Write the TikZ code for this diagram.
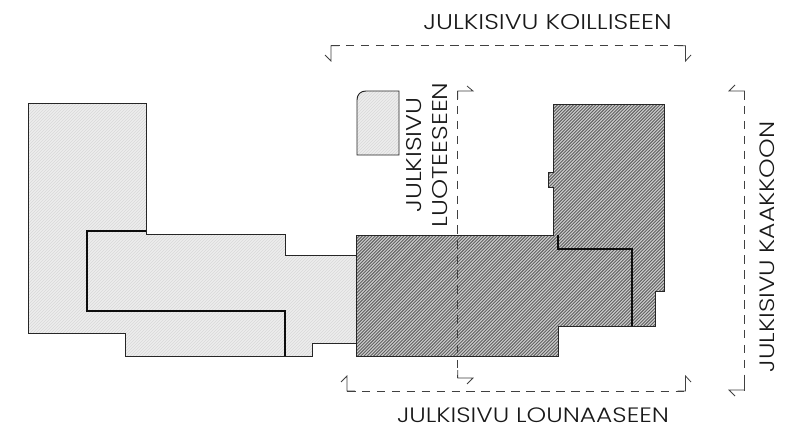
\documentclass[tikz,border=0pt]{standalone}
\usepackage{fontspec}
\setmainfont{Poppins Light}[FakeStretch=1.2]
\tikzset{
  x=0.75pt,y=-0.75pt,
  outline/.style={draw=black!85,line width=0.7pt,line join=miter},
  inner wall/.style={draw=black!95,line width=0.8pt},
  cutline/.style={draw=black!75,line width=0.6pt,dash pattern=on 6.4pt off 4.8pt},
  cuthook/.style={draw=black!75,line width=0.6pt},
  lab/.style={font=\fontsize{16pt}{19pt}\selectfont,text=black!90,inner sep=0pt,align=center},
  labsmall/.style={font=\fontsize{15.6pt}{19pt}\selectfont,text=black!90,inner sep=0pt,align=center},
}
\newcommand{\hatchfill}[5]{% path, base colour, line colour, spacing, line width
  \begin{scope}
    \fill[#2] #1;
    \clip #1;
    \foreach \k in {0,#4,...,1300}{\draw[#3,line width=#5] (\k,0) -- (\k-500,500);}
  \end{scope}
}
\begin{document}
\begin{tikzpicture}
\useasboundingbox (0,0) rectangle (802,435);
\fill[white] (0,0) rectangle (802,435);
% buildings
\def\lightA{(28,103) -- (146,103) -- (146,234.5) -- (285,234.5) -- (285,255) -- (356,255) -- (356,343) -- (312,343) -- (312,356) -- (125,356) -- (125,333) -- (28,333) -- cycle}
\def\lightB{(366,91) -- (399,91) -- (399,155) -- (357,155) -- (357,100) .. controls (357,94.5) and (360.5,91) .. (366,91) -- cycle}
\def\darkA{(356,235) -- (553,235) -- (553,187) -- (548,187) -- (548,172) -- (553,172) -- (553,104) -- (664,104) -- (664,291) -- (655,291) -- (655,326) -- (558,326) -- (558,356) -- (356,356) -- cycle}
\hatchfill{\lightA}{black!7}{black!15}{3}{0.4pt}
\hatchfill{\lightB}{black!7}{black!15}{3}{0.4pt}
\hatchfill{\darkA}{black!20}{black!62}{3.2}{0.7pt}
\draw[outline] \lightA;
\draw[outline] \lightB;
\draw[outline] \darkA;
\draw[inner wall] (146,231) -- (87,231) -- (87,311) -- (285,311) -- (285,356);
\draw[inner wall] (558,235) -- (558,249) -- (632,249) -- (632,326);
% cut marks
\coordinate (kTL) at (331,45.7); \coordinate (kTR) at (685.5,45.7);
\coordinate (kBL) at (347,391); \coordinate (kBR) at (685.5,391);
\coordinate (kRT) at (744.5,91); \coordinate (kRB) at (744.5,390);
\coordinate (kMT) at (457.7,91); \coordinate (kMB) at (457.7,378);
\draw[cutline] (kTL) -- (kTR);
\draw[cuthook] (325,55) -- (331,61) -- (kTL) -- +(8,0);
\draw[cuthook] (691,55) -- (685.5,61) -- (kTR) -- +(-8,0);
\draw[cutline] (kBL) -- (kBR);
\draw[cuthook] (341,382) -- (347,376) -- (kBL) -- +(8,0);
\draw[cuthook] (691,382) -- (685.5,376) -- (kBR) -- +(-8,0);
\draw[cutline] (kRT) -- (kRB);
\draw[cuthook] (735,85) -- (729,91) -- (kRT) -- +(0,8);
\draw[cuthook] (735,396) -- (729,390) -- (kRB) -- +(0,-8);
\draw[cutline,line width=0.75pt] (kMT) -- (kMB);
\draw[cuthook] (467,86) -- (473,91) -- (kMT) -- +(0,8);
\draw[cuthook] (467,384) -- (473,378) -- (kMB) -- +(0,-8);
% labels
\node[lab] (koillinen) at (547.5,22) {JULKISIVU KOILLISEEN};
\node[labsmall] (lounas) at (533,415) {JULKISIVU LOUNAASEEN};
\node[labsmall,rotate=90] (kaakko) at (767,247) {JULKISIVU KAAKKOON};
\node[lab,rotate=90] (luode) at (427,155) {JULKISIVU\\[1pt]LUOTEESEEN};
\end{tikzpicture}
\end{document}
